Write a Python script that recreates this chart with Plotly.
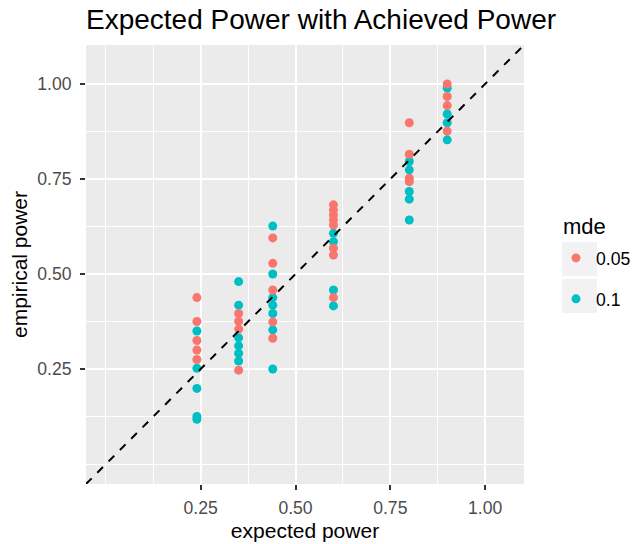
import plotly.graph_objects as go

# ---- data ----
title_text = "Expected Power with Achieved Power"
x_title = "expected power"
y_title = "empirical power"
legend_title = "mde"
series_names = ["0.05", "0.1"]
series_colors = ["#F8766D", "#00BFC4"]

tick_vals = [0.25, 0.50, 0.75, 1.00]
tick_text = ["0.25", "0.50", "0.75", "1.00"]
minor_vals = [0.0, 0.125, 0.375, 0.625, 0.875]

# mde = 0.05 (red)
red_x = [0.24, 0.24, 0.24, 0.24, 0.24,
         0.35, 0.35, 0.35, 0.35,
         0.44, 0.44, 0.44, 0.44, 0.44,
         0.60, 0.60, 0.60, 0.60, 0.60, 0.60, 0.60, 0.60,
         0.80, 0.80, 0.80, 0.80,
         0.90, 0.90, 0.90, 0.90]
red_y = [0.438, 0.375, 0.325, 0.300, 0.275,
         0.396, 0.376, 0.355, 0.247,
         0.595, 0.528, 0.458, 0.374, 0.331,
         0.682, 0.668, 0.655, 0.642, 0.629, 0.568, 0.550, 0.438,
         0.898, 0.815, 0.752, 0.743,
         1.000, 0.967, 0.943, 0.876]

# mde = 0.1 (teal)
teal_x = [0.24, 0.24, 0.24, 0.24, 0.24,
          0.35, 0.35, 0.35, 0.35, 0.35, 0.35,
          0.44, 0.44, 0.44, 0.44, 0.44, 0.44, 0.44,
          0.60, 0.60, 0.60, 0.60,
          0.80, 0.80, 0.80, 0.80, 0.80,
          0.90, 0.90, 0.90, 0.90]
teal_y = [0.350, 0.252, 0.199, 0.125, 0.118,
          0.480, 0.418, 0.332, 0.311, 0.291, 0.271,
          0.626, 0.500, 0.438, 0.418, 0.396, 0.353, 0.250,
          0.607, 0.585, 0.458, 0.416,
          0.796, 0.774, 0.717, 0.697, 0.642,
          0.989, 0.921, 0.898, 0.853]

axis_range = [-0.0525, 1.1025]

# ---- figure ----
W, H = 639, 544
P_L, P_R, P_T, P_B = 86, 524, 45, 484          # plot panel in pixels
L, T, R, B = P_L, P_T, W - P_R, H - P_B
font = "Liberation Sans, Arial, Helvetica, sans-serif"

pw = P_R - P_L
ph = P_B - P_T
def px_x(p):
    return (p - P_L) / pw
def px_y(p):
    return (P_B - p) / ph

fig = go.Figure()
fig.add_trace(go.Scatter(x=teal_x, y=teal_y, mode="markers", name=series_names[1],
                         legendgroup="b", legendrank=2,
                         marker=dict(color=series_colors[1], size=9, line=dict(width=0))))
fig.add_trace(go.Scatter(x=red_x, y=red_y, mode="markers", name=series_names[0],
                         legendgroup="a", legendrank=1,
                         marker=dict(color=series_colors[0], size=9, line=dict(width=0))))

# y = x reference line (abline)
fig.add_shape(type="line", xref="x", yref="y",
              x0=axis_range[0], y0=axis_range[0], x1=axis_range[1], y1=axis_range[1],
              line=dict(color="black", width=2, dash="8px,8px"), layer="above")

# legend key backgrounds
for (y0, y1) in [(242, 276), (279, 313)]:
    fig.add_shape(type="rect", xref="paper", yref="paper",
                  x0=px_x(562), x1=px_x(597), y0=px_y(y1), y1=px_y(y0),
                  fillcolor="#F2F2F2", line=dict(width=0), layer="below")

# legend title
fig.add_annotation(text=legend_title, xref="paper", yref="paper",
                   x=px_x(561), y=px_y(226), xanchor="left", yanchor="middle",
                   showarrow=False, font=dict(family=font, size=22, color="black"))

axis_common = dict(
    range=axis_range, tickvals=tick_vals, ticktext=tick_text,
    showgrid=True, gridcolor="white", gridwidth=2,
    zeroline=False, showline=False,
    ticks="outside", ticklen=5, tickwidth=2, tickcolor="#333333",
    tickfont=dict(family=font, size=17.6, color="#4D4D4D"),
    minor=dict(tickvals=minor_vals, showgrid=True, gridcolor="white", gridwidth=1, ticks=""),
)

fig.update_layout(
    width=W, height=H,
    margin=dict(l=L, r=R, t=T, b=B, autoexpand=False),
    paper_bgcolor="white", plot_bgcolor="#EBEBEB",
    font=dict(family=font, color="black"),
    title=dict(text=title_text, font=dict(family=font, size=28, color="black"),
               x=0, xref="paper", xanchor="left", y=1 - 19 / H, yref="container",
               yanchor="middle"),
    xaxis=dict(axis_common, title=dict(text=x_title, font=dict(size=21, color="black"), standoff=6),
               ticklabelstandoff=3),
    yaxis=dict(axis_common, title=dict(text=y_title, font=dict(size=21, color="black"), standoff=3),
               ticklabelstandoff=5),
    showlegend=True,
    legend=dict(font=dict(family=font, size=17.6, color="black"),
                x=px_x(556), y=px_y(240), xanchor="left", yanchor="top",
                bgcolor="rgba(0,0,0,0)", tracegroupgap=15, itemwidth=30),
)

fig.write_html("out.html", config={"displayModeBar": False},
               post_script="document.body.style.margin='0';")
